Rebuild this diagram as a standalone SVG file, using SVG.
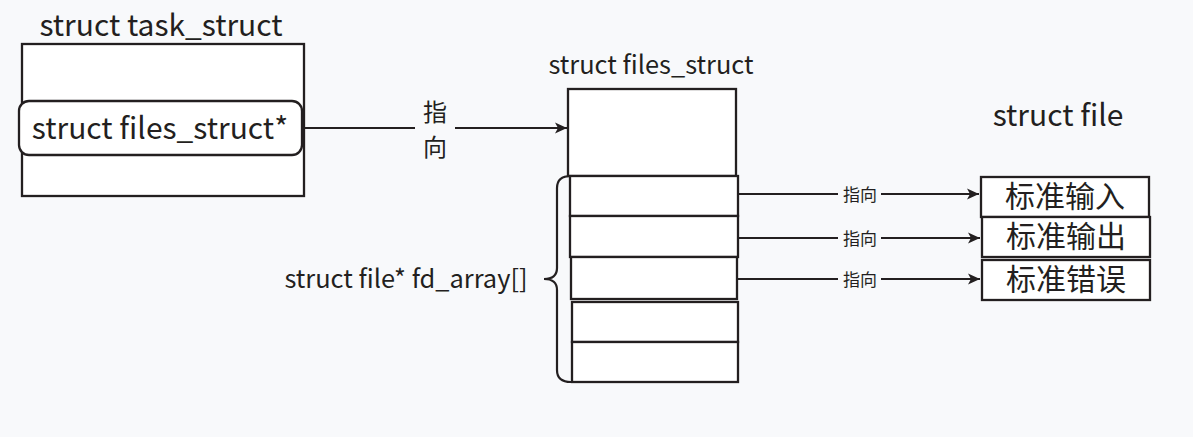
<svg xmlns="http://www.w3.org/2000/svg" width="1193" height="437" viewBox="0 0 1193 437">
<defs>
<marker id="ah" viewBox="0 0 10 10" refX="10" refY="5" markerWidth="12" markerHeight="12" markerUnits="userSpaceOnUse" orient="auto">
<path d="M0,0.5 L10,5 L0,9.5 L2.5,5 Z" fill="#231f20"/>
</marker>
<style>
text{font-family:"Noto Sans CJK SC","Noto Sans",sans-serif;fill:#231f20}
.box{fill:#ffffff;stroke:#231f20;stroke-width:2.3}
.ln{fill:none;stroke:#231f20;stroke-width:2.2}
.big{font-size:30px}
.mid{font-size:25.4px}
.sm{font-size:17px}
.v{font-size:24px}
</style>
</defs>
<rect width="1193" height="437" fill="#f8f9fb"/>
<g id="task_struct">
<text class="big" x="161" y="36" text-anchor="middle">struct task_struct</text>
<rect class="box" x="22" y="44" width="282" height="152"/>
<rect class="box" x="19" y="101" width="283" height="54" rx="10"/>
<text class="big" x="160" y="139" text-anchor="middle">struct files_struct*</text>
</g>
<g id="files_struct">
<text class="mid" x="651" y="74" text-anchor="middle">struct files_struct</text>
<rect class="box" x="568" y="89" width="168" height="87"/>
</g>
<g id="fd_array">
<rect class="box" x="570" y="176" width="168" height="40"/>
<rect class="box" x="570" y="216" width="168" height="41"/>
<rect class="box" x="571" y="257" width="166" height="42"/>
<rect class="box" x="572" y="302" width="166" height="40"/>
<rect class="box" x="572" y="342" width="166" height="40"/>
<path class="ln" d="M571,176 Q557,176 557,188 L557,268 Q557,279 544,279 Q557,279 557,290 L557,370 Q557,382 571,382"/>
<text class="mid" x="406" y="288" text-anchor="middle">struct file* fd_array[]</text>
</g>
<g id="struct_file">
<text class="big" x="1058" y="126" text-anchor="middle">struct file</text>
<rect class="box" x="981" y="177" width="168" height="40"/>
<text class="big" x="1065" y="207" text-anchor="middle">标准输入</text>
<rect class="box" x="982" y="217" width="168" height="40"/>
<text class="big" x="1066" y="247" text-anchor="middle">标准输出</text>
<rect class="box" x="982" y="260" width="168" height="40"/>
<text class="big" x="1066" y="290" text-anchor="middle">标准错误</text>
</g>
<g id="connectors">
<path class="ln" d="M303,128 L415,128 M455,128 L567,128" marker-end="url(#ah)"/>
<text class="v" x="435" y="121" text-anchor="middle">指</text>
<text class="v" x="435" y="156" text-anchor="middle">向</text>
<path class="ln" d="M738,194 L838,194 M881,194 L979,194" marker-end="url(#ah)"/>
<text class="sm" x="860" y="201" text-anchor="middle">指向</text>
<path class="ln" d="M738,238 L838,238 M881,238 L980,238" marker-end="url(#ah)"/>
<text class="sm" x="860" y="245" text-anchor="middle">指向</text>
<path class="ln" d="M737,279 L838,279 M881,279 L980,279" marker-end="url(#ah)"/>
<text class="sm" x="860" y="286" text-anchor="middle">指向</text>
</g>
</svg>
